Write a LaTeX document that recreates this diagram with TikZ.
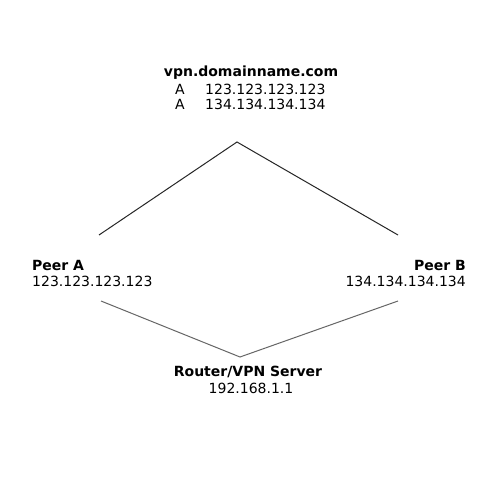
\documentclass[tikz,border=0pt]{standalone}
\usepackage{fontspec}
\setmainfont{DejaVu Sans}
\begin{document}
\begin{tikzpicture}[x=1pt,y=-1pt,
  lbl/.style={inner sep=0pt,font=\fontsize{14}{16}\selectfont},
  bold/.style={lbl,font=\fontsize{14}{16}\selectfont\bfseries},
  topline/.style={line width=1pt,draw=black!85},
  botline/.style={line width=1pt,draw=black!60}]
\useasboundingbox[fill=white] (0,0) rectangle (500,500);
% top DNS box
\node[bold] (vpn) at (251,73) {vpn.domainname.com};
\node[lbl,anchor=west] (a1) at (175,89) {A};
\node[lbl,anchor=west] (ip1) at (205,89) {123.123.123.123};
\node[lbl,anchor=west] (a2) at (175,104) {A};
\node[lbl,anchor=west] (ip2) at (205,104) {134.134.134.134};
% peers
\node[bold,anchor=west] (pa) at (32,265) {Peer A};
\node[lbl,anchor=west] (paip) at (32,281) {123.123.123.123};
\node[bold,anchor=east] (pb) at (466,265) {Peer B};
\node[lbl,anchor=east] (pbip) at (466,281) {134.134.134.134};
% router
\node[bold] (rt) at (248,372) {Router/VPN Server};
\node[lbl] (rtip) at (251,388) {192.168.1.1};
% connector points
\coordinate (tl) at (99,235);
\coordinate (tapex) at (237,142);
\coordinate (tr) at (398,235);
\coordinate (bl) at (101,301);
\coordinate (bapex) at (240,357);
\coordinate (br) at (398,301);
\draw[topline] (tl) -- (tapex) -- (tr);
\draw[botline] (bl) -- (bapex) -- (br);
\end{tikzpicture}
\end{document}
